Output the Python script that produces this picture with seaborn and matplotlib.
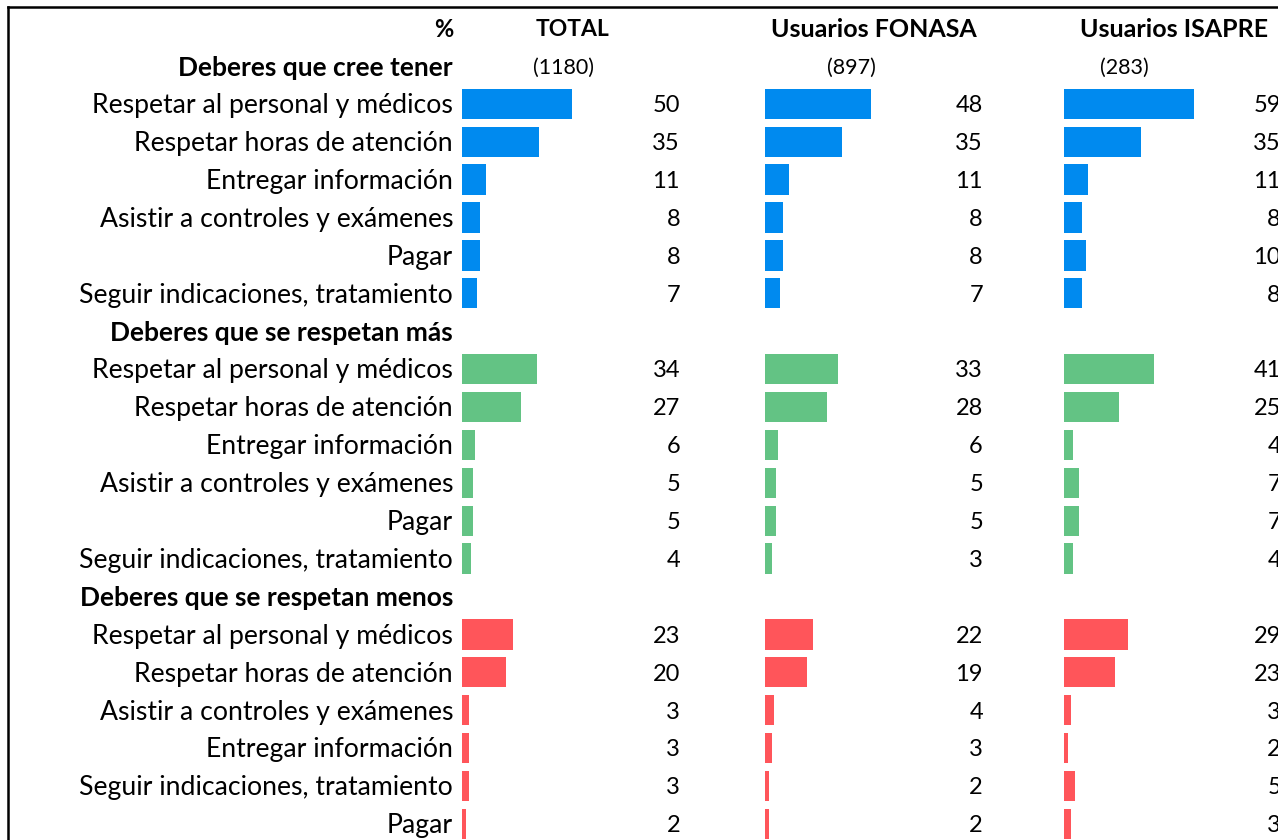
import pandas as pd
import matplotlib.pyplot as plt
import seaborn as sns
from matplotlib.lines import Line2D

# datos
sections = ["Deberes que cree tener", "Deberes que se respetan más", "Deberes que se respetan menos"]
items_cree = ["Respetar al personal y médicos", "Respetar horas de atención", "Entregar información",
              "Asistir a controles y exámenes", "Pagar", "Seguir indicaciones, tratamiento"]
items_mas = ["Respetar al personal y médicos", "Respetar horas de atención", "Entregar información",
             "Asistir a controles y exámenes", "Pagar", "Seguir indicaciones, tratamiento"]
items_menos = ["Respetar al personal y médicos", "Respetar horas de atención", "Asistir a controles y exámenes",
               "Entregar información", "Seguir indicaciones, tratamiento", "Pagar"]

total_cree = [50, 35, 11, 8, 8, 7]
fonasa_cree = [48, 35, 11, 8, 8, 7]
isapre_cree = [59, 35, 11, 8, 10, 8]
total_mas = [34, 27, 6, 5, 5, 4]
fonasa_mas = [33, 28, 6, 5, 5, 3]
isapre_mas = [41, 25, 4, 7, 7, 4]
total_menos = [23, 20, 3, 3, 3, 2]
fonasa_menos = [22, 19, 4, 3, 2, 2]
isapre_menos = [29, 23, 3, 2, 5, 3]

groups = ["TOTAL", "Usuarios FONASA", "Usuarios ISAPRE"]
bases = ["(1180)", "(897)", "(283)"]
colors = {sections[0]: "#008AEF", sections[1]: "#63C384", sections[2]: "#FF555A"}

# tabla larga
sec_items = [items_cree, items_mas, items_menos]
sec_vals = [[total_cree, fonasa_cree, isapre_cree],
            [total_mas, fonasa_mas, isapre_mas],
            [total_menos, fonasa_menos, isapre_menos]]
recs = []
headers = []
row = 1
for s, items, vals in zip(sections, sec_items, sec_vals):
    headers.append((row, s))
    row += 1
    for i, it in enumerate(items):
        for g, v in zip(groups, vals):
            recs.append({"row": row, "item": it, "section": s, "group": g, "value": v[i]})
        row += 1
df = pd.DataFrame(recs)

# geometria (pixeles)
W, H = 1278, 840
ROW0, STEP = 28, 37.9
SCALE = 2.2
origins = [462, 765, 1064]
val_right = [680, 983, 1281]
head_x = [573, 874, 1174]
head_size = [16.5, 18, 18]
base_x = [564, 851, 1124]
LABEL_R = 453
TXT_DY = 0.05  # texto un poco mas abajo que las barras

plt.rcParams['font.family'] = ['Lato', 'DejaVu Sans']
fig = plt.figure(figsize=(W / 100, H / 100), dpi=100)

ymin, ymax = -ROW0 / STEP, (H - ROW0) / STEP
axes = []
for k, g in enumerate(groups):
    ax = fig.add_axes([origins[k] / W, 0, 290 / W, 1])
    sub = df[df["group"] == g]
    sns.barplot(data=sub, x="value", y="row", hue="section", palette=colors, orient="h",
                native_scale=True, dodge=False, legend=False, width=0.8, saturation=1, ax=ax)
    ax.set_xlim(0, 290 / SCALE)
    ax.set_ylim(ymax, ymin)
    for _, r in sub.iterrows():
        ax.text((val_right[k] - origins[k]) / SCALE, r["row"] + TXT_DY, str(r["value"]),
                ha="right", va="center", fontsize=17)
    ax.text((head_x[k] - origins[k]) / SCALE, 0 + TXT_DY, g, ha="center", va="center",
            fontsize=head_size[k], fontweight="bold")
    ax.text((base_x[k] - origins[k]) / SCALE, 1 + TXT_DY, bases[k], ha="center", va="center",
            fontsize=15.5)
    ax.set_axis_off()
    axes.append(ax)

ax0 = axes[0]
lx = (LABEL_R - origins[0]) / SCALE
ax0.text(lx, 0 + TXT_DY, "%", ha="right", va="center", fontsize=17, fontweight="bold")
for r, s in headers:
    ax0.text(lx, r + TXT_DY, s, ha="right", va="center", fontsize=19, fontweight="bold")
items_df = df[df["group"] == groups[0]]
for _, r in items_df.iterrows():
    ax0.text(lx, r["row"] + TXT_DY, r["item"], ha="right", va="center", fontsize=19.2)

# marco
fig.add_artist(Line2D([8 / W, 1], [1 - 7 / H, 1 - 7 / H], color="black", lw=1.8))
fig.add_artist(Line2D([8 / W, 8 / W], [0, 1 - 7 / H], color="black", lw=1.8))

fig.savefig("out.png", dpi=100)
